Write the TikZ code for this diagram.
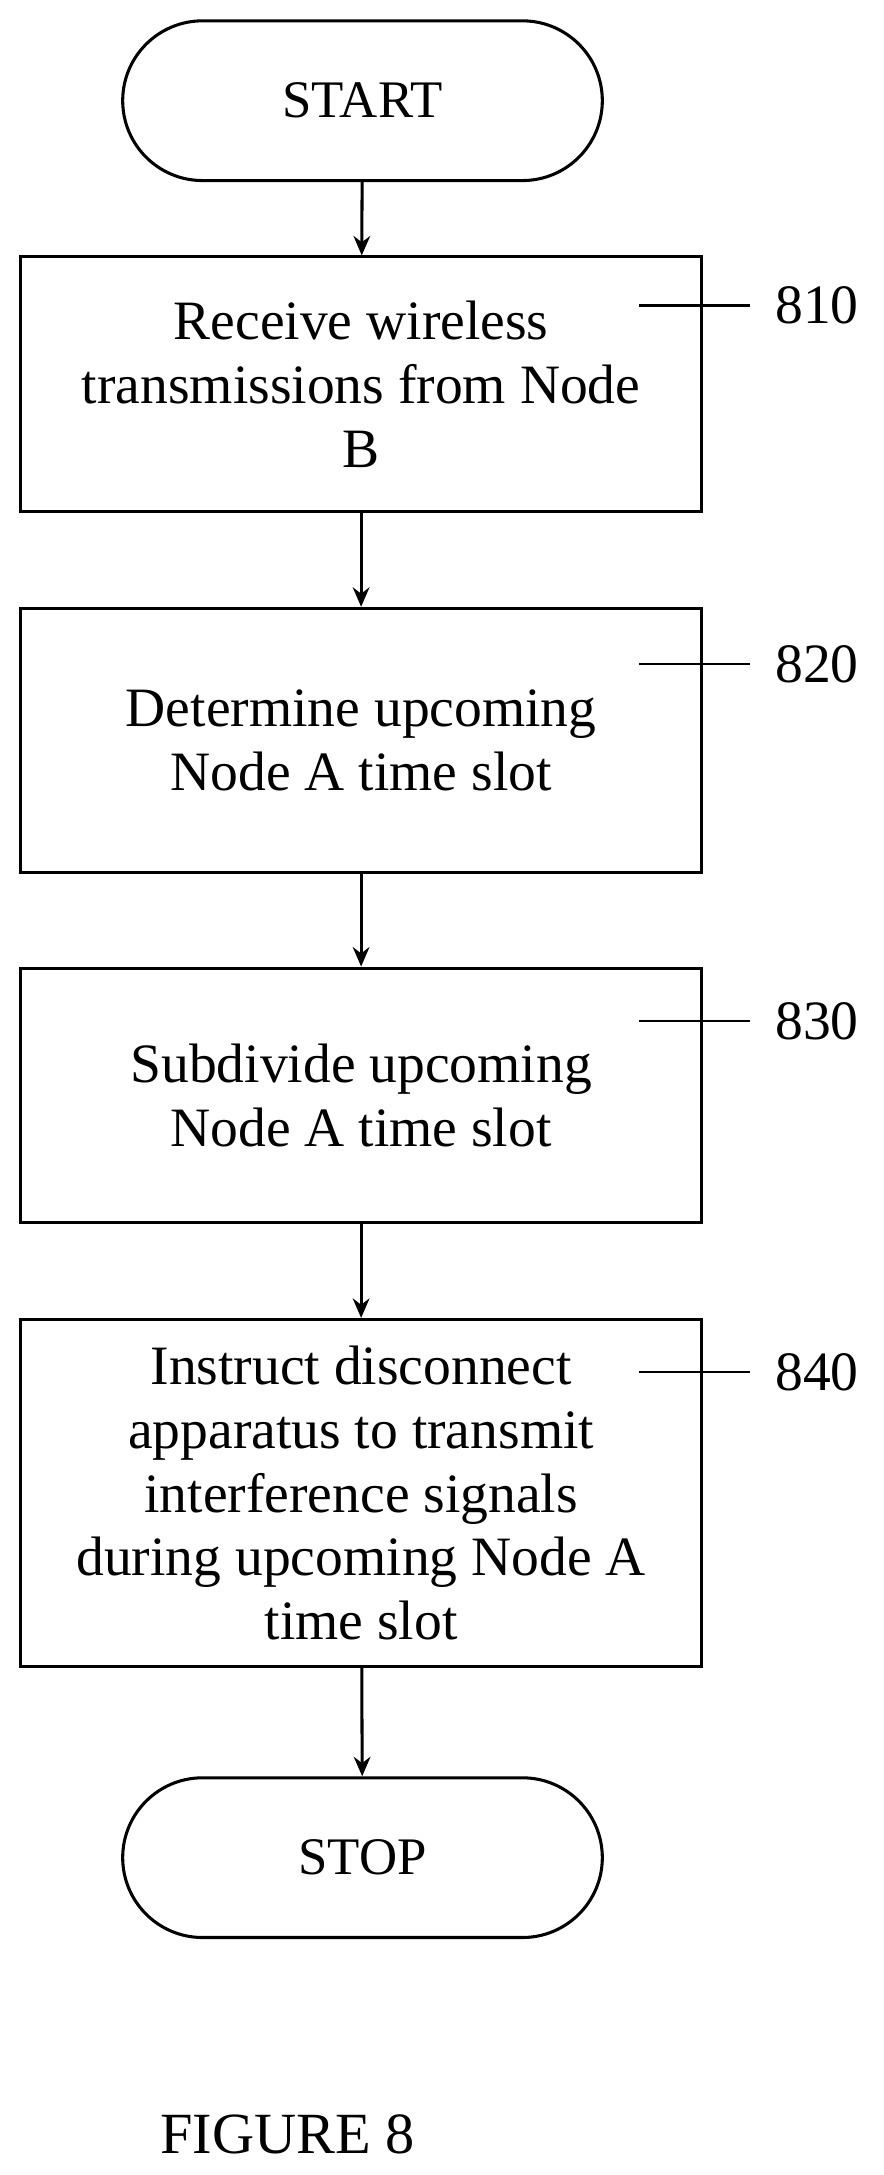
\documentclass[tikz,border=0pt]{standalone}
\usepackage{fontspec}
\setmainfont{Liberation Serif}
\usetikzlibrary{arrows.meta,shapes.misc}
\begin{document}
\begin{tikzpicture}[x=1pt,y=-1pt,
  box/.style={draw,line width=2.2pt,minimum width=490pt,align=center,font=\fontsize{40}{46}\selectfont,inner sep=0pt},
  term/.style={draw,line width=2.2pt,rounded rectangle,minimum width=352pt,minimum height=115pt,font=\fontsize{38}{40}\selectfont},
  arr/.style={line width=2.2pt,-{Stealth[length=14pt,width=12pt]}},
  lead/.style={line width=1.6pt},
  lbl/.style={font=\fontsize{40}{40}\selectfont}]
\useasboundingbox (0,0) rectangle (636,1566);
\node[term] (start) at (261,72.5) {START};
\node[box,minimum height=183pt] (b810) at (260,276.5) {Receive wireless\\transmissions from Node\\B};
\node[box,minimum height=190pt] (b820) at (260,533) {Determine upcoming\\Node A time slot};
\node[box,minimum height=183pt] (b830) at (260,788.5) {Subdivide upcoming\\Node A time slot};
\node[box,minimum height=250pt] (b840) at (260,1075) {Instruct disconnect\\apparatus to transmit\\interference signals\\during upcoming Node A\\time slot};
\node[term] (stop) at (261,1337.5) {STOP};
\draw[arr] (start) -- (b810);
\draw[arr] (b810) -- (b820);
\draw[arr] (b820) -- (b830);
\draw[arr] (b830) -- (b840);
\draw[arr] (b840) -- (stop);
\foreach \n/\y in {810/220,820/478,830/735,840/988}{
  \coordinate (a\n) at (460,\y);
  \coordinate (e\n) at (540,\y);
  \node[lbl,anchor=west,inner sep=0pt] (l\n) at (558,\y) {\n};
  \draw[lead] (a\n) -- (e\n);
}
\node[font=\fontsize{42}{42}\selectfont] (fig) at (207,1537) {FIGURE 8};
\end{tikzpicture}
\end{document}
